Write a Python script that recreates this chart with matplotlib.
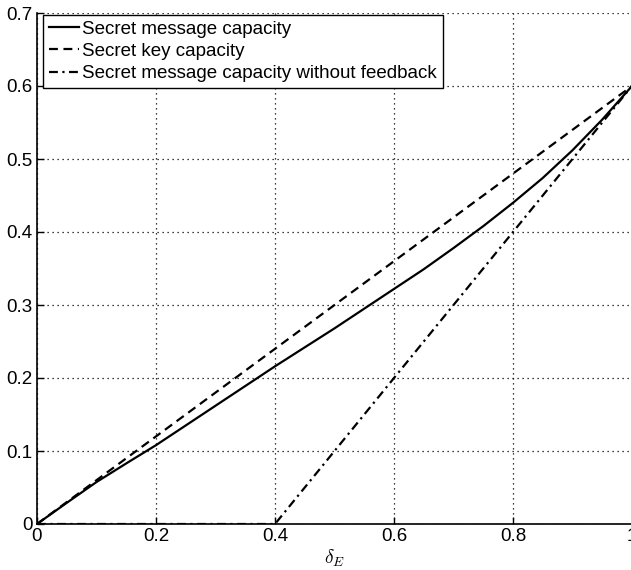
import numpy as np
import matplotlib
matplotlib.use("Agg")
import matplotlib.pyplot as plt

plt.rcParams['font.family'] = ['Liberation Sans', 'DejaVu Sans']
plt.rcParams['mathtext.fontset'] = 'cm'

# values
delta_e = [0, 0.05, 0.1, 0.15, 0.2, 0.25, 0.3, 0.35, 0.4, 0.45, 0.5,
           0.55, 0.6, 0.65, 0.7, 0.75, 0.8, 0.85, 0.9, 0.95, 1.0]
msg_cap = [0, 0.029, 0.0575, 0.083, 0.108, 0.135, 0.162, 0.189, 0.216, 0.242, 0.268,
           0.295, 0.322, 0.349, 0.378, 0.408, 0.44, 0.474, 0.512, 0.554, 0.6]
key_x = [0, 1.0]
key_cap = [0, 0.6]
nofb_x = [0, 0.4, 1.0]
nofb_cap = [0, 0, 0.6]

xticks = [0, 0.2, 0.4, 0.6, 0.8, 1]
xticklabels = ['0', '0.2', '0.4', '0.6', '0.8', '1']
yticks = [0, 0.1, 0.2, 0.3, 0.4, 0.5, 0.6, 0.7]
yticklabels = ['0', '0.1', '0.2', '0.3', '0.4', '0.5', '0.6', '0.7']

fig = plt.figure(figsize=(6.31, 5.70), dpi=100)
ax = fig.add_axes([37/631, 1 - 524/570, 595/631, 511/570])

ax.plot(delta_e, msg_cap, color='black', lw=1.6, linestyle='-',
        label='Secret message capacity')
ax.plot(key_x, key_cap, color='black', lw=1.6, linestyle=(0, (4, 2.5)),
        label='Secret key capacity')
ax.plot(nofb_x, nofb_cap, color='black', lw=1.6, linestyle=(0, (4, 2, 1, 2)),
        label='Secret message capacity without feedback')

ax.set_xlim(0, 1)
ax.set_ylim(0, 0.7)
ax.set_xticks(xticks)
ax.set_xticklabels(xticklabels)
ax.set_yticks(yticks)
ax.set_yticklabels(yticklabels)
ax.tick_params(direction='in', length=5, width=1, labelsize=13.5, pad=3)

ax.grid(True, color='black', linestyle=(0, (1, 3)), linewidth=0.9)
for side in ('top', 'right'):
    ax.spines[side].set_visible(False)
for side in ('left', 'bottom'):
    ax.spines[side].set_linewidth(1.2)

ax.set_xlabel(r'$\delta_E$', fontsize=14, labelpad=2)

leg = ax.legend(loc='upper left', bbox_to_anchor=(0.010, 0.996),
                fontsize=13.5, frameon=True, fancybox=False,
                edgecolor='black', framealpha=1, borderpad=0.3,
                labelspacing=0.27, handlelength=1.6, handletextpad=0.2,
                borderaxespad=0)
leg.get_frame().set_linewidth(1.0)

fig.savefig('out.png', dpi=100)
